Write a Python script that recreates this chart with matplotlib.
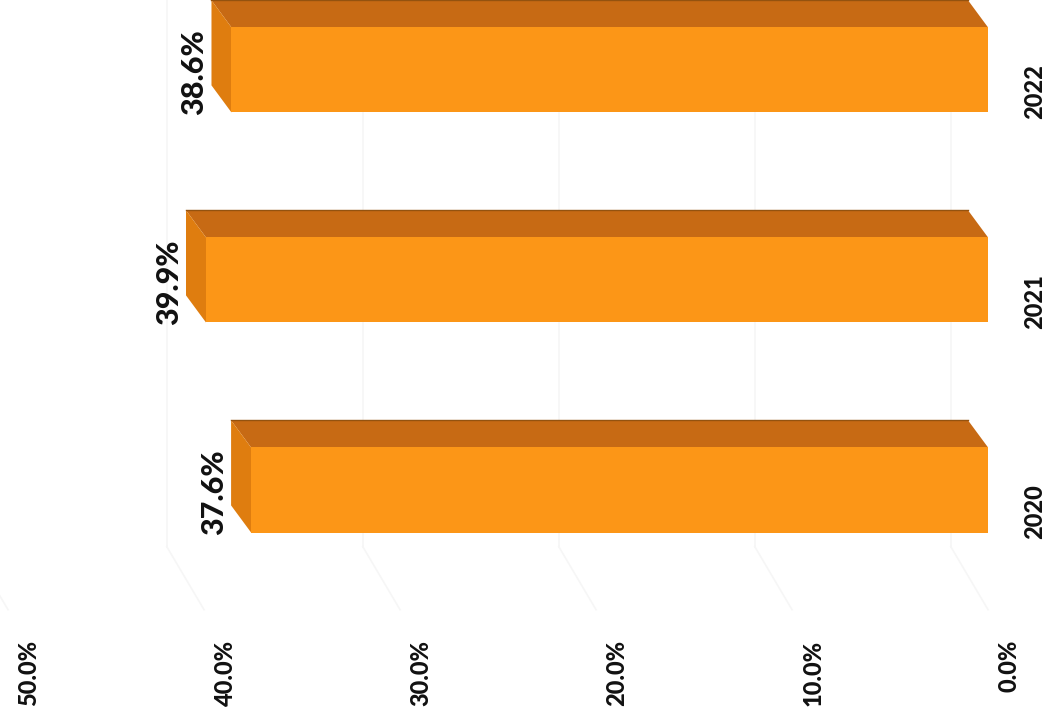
import matplotlib
matplotlib.use("Agg")
import matplotlib.pyplot as plt
from matplotlib.patches import Polygon, Rectangle

years = ["2020", "2021", "2022"]
shares = [37.6, 39.9, 38.6]
tick_values = [0, 10, 20, 30, 40, 50]
tick_labels = ["0.0%", "10.0%", "20.0%", "30.0%", "40.0%", "50.0%"]

plt.rcParams['font.family'] = ['Lato', 'DejaVu Sans']

# bar look
bar_h = 0.405
depth_x, depth_y = 1.02, 0.129      # bar depth offset (value units, category units)
wall_x, wall_y = 1.9, 0.30          # depth of the side wall grid
front_col = "#fc9617"
top_col = "#c76a14"
end_col = "#df7d0f"
grid_col = "#f6f6f6"
text_col = "#111111"

fig = plt.figure(figsize=(10.49, 7.25), dpi=100)
ax = fig.add_axes([0, 0, 1, 1])
ax.set_xlim(50.41, -3.11)
ax.set_ylim(-1.119, 2.333)
ax.axis("off")

floor_y = -0.57

# faint gridlines: back wall and side wall
for v in tick_values:
    ax.plot([v + wall_x, v + wall_x], [floor_y + wall_y, 2.4], color=grid_col, lw=1.2, zorder=1)
    ax.plot([v + wall_x, v], [floor_y + wall_y, floor_y], color=grid_col, lw=1.2, zorder=1)

for i, (yr, v) in enumerate(zip(years, shares)):
    y0 = i - bar_h / 2
    y1 = i + bar_h / 2
    # top face
    ax.add_patch(Polygon([(v, y1), (0, y1), (depth_x, y1 + depth_y), (v + depth_x, y1 + depth_y)],
                         closed=True, facecolor=top_col, edgecolor="none", zorder=3))
    ax.plot([v + depth_x, depth_x], [y1 + depth_y, y1 + depth_y], color="#94520f", lw=1.0, zorder=4)
    # end face
    ax.add_patch(Polygon([(v, y0), (v, y1), (v + depth_x, y1 + depth_y), (v + depth_x, y0 + depth_y)],
                         closed=True, facecolor=end_col, edgecolor="none", zorder=3))
    # front face
    ax.add_patch(Rectangle((0, y0), v, bar_h, facecolor=front_col, edgecolor="none", zorder=4))

    ax.text(v + depth_x + 0.15, y0 - 0.01, "%.1f%%" % v, rotation=90, ha="right", va="bottom",
            fontsize=22, fontweight="black", color=text_col, zorder=5)
    ax.text(-2.4, y0 - 0.03, yr, rotation=90, ha="center", va="bottom",
            fontsize=17, fontweight="black", color=text_col, zorder=5)

for v, lab in zip(tick_values, tick_labels):
    ax.text(v - 1.07, -0.714, lab, rotation=90, ha="center", va="top",
            fontsize=17, fontweight="black", color=text_col)

fig.savefig("out.png", dpi=100, facecolor="white")
